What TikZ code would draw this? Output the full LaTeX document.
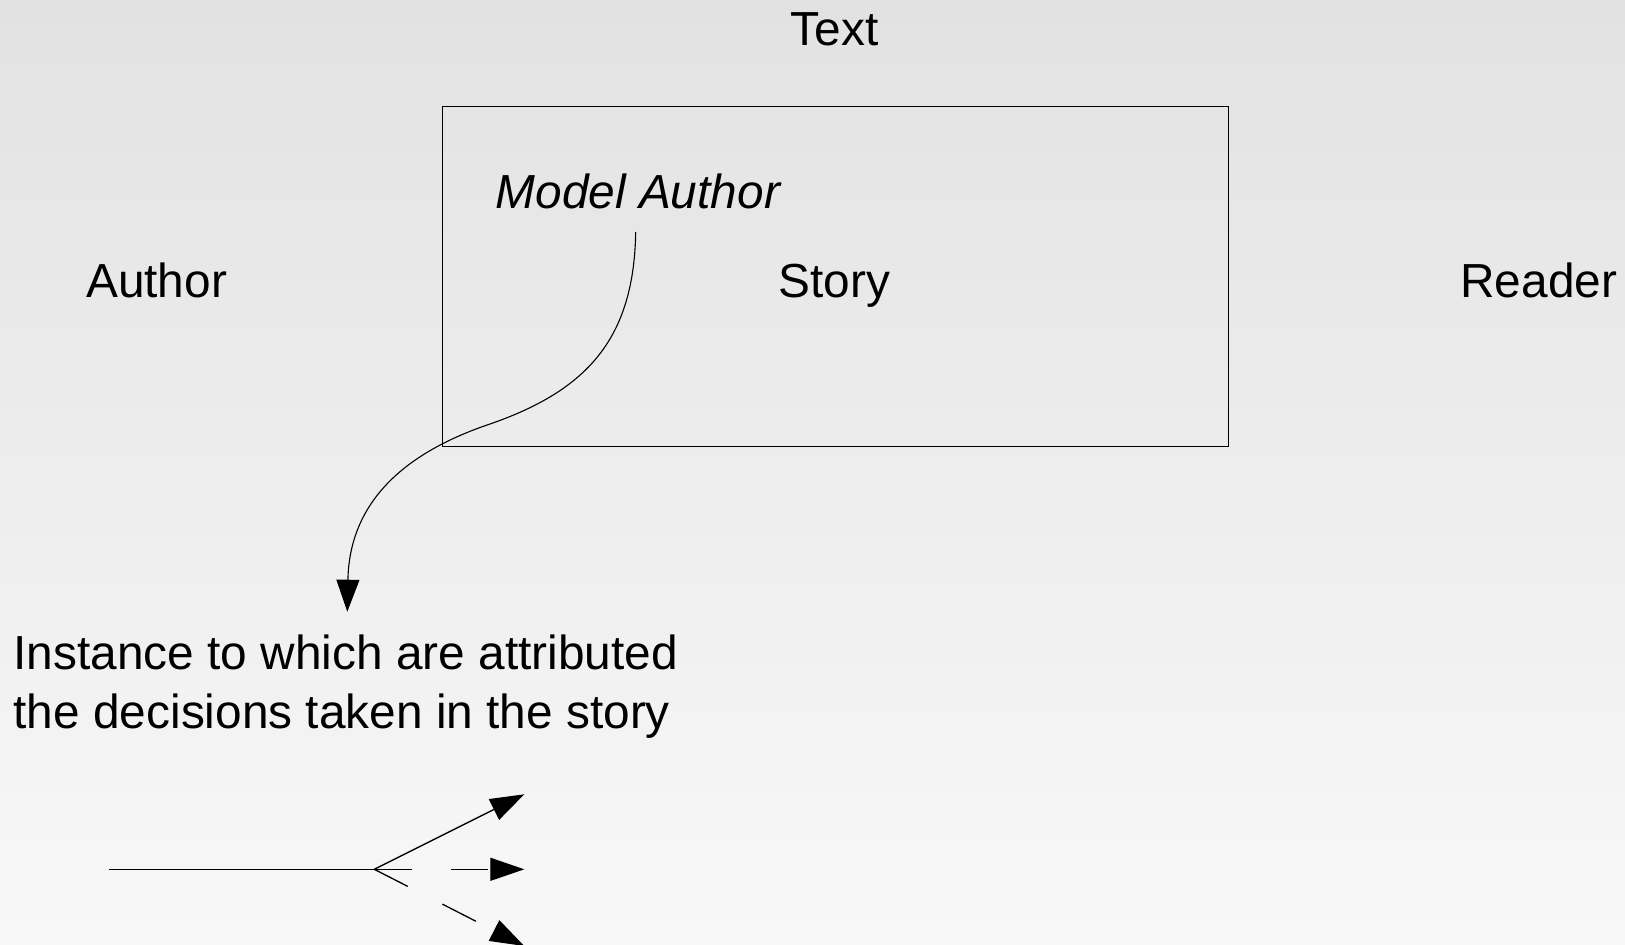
\documentclass[tikz,border=0pt]{standalone}
\usepackage{fontspec}
\setmainfont{Liberation Sans}
\usetikzlibrary{arrows.meta}
\definecolor{bgtop}{HTML}{E2E2E2}
\definecolor{bgbottom}{HTML}{F8F8F8}
\begin{document}
\begin{tikzpicture}[x=1pt,y=-1pt,
  lbl/.style={inner sep=0pt, font=\fontsize{47.8}{59}\selectfont},
  frame/.style={draw=black, line width=1pt, inner sep=0pt},
  conn/.style={draw=black, line width=1.1pt, -{Triangle[length=32pt,width=23pt]}},
  fan/.style={draw=black, line width=1.3pt},
  fanarrow/.style={fan, -{Triangle[length=34pt,width=23pt]}},
  fandash/.style={fanarrow, dash pattern=on 37.5pt off 39pt}]
\useasboundingbox (0,0) rectangle (1625,945);
\shade[top color=bgtop, bottom color=bgbottom] (0,0) rectangle (1625,945);

\node[frame, anchor=north west, minimum width=786.3pt, minimum height=340.3pt] (storybox) at (441.7,105.7) {};

\node[lbl, anchor=base] (text) at (834.5,45.5) {Text};
\node[lbl, anchor=base west] (author) at (86,297.5) {Author};
\node[lbl, anchor=base] (story) at (834.5,297.5) {Story};
\node[lbl, anchor=base west] (reader) at (1460.2,297.5) {Reader};
\node[lbl, anchor=base west, font=\fontsize{47.8}{59}\selectfont\itshape] (model) at (495.5,208.2) {Model Author};
\node[lbl, anchor=base west] (inst1) at (13.5,669.3) {Instance to which are attributed};
\node[lbl, anchor=base west] (inst2) at (13.5,728.3) {the decisions taken in the story};

\coordinate (mafoot) at (635.7,232);
\coordinate (insttop) at (347.3,611.7);
\draw[conn] (mafoot) .. controls (634,338) and (588,390) .. (490,424)
  .. controls (380,461) and (349,522) .. (insttop);

\coordinate (tail) at (109,869.3);
\coordinate (fork) at (374.3,869.3);
\coordinate (up) at (524.3,794.3);
\coordinate (mid) at (524.3,869.3);
\coordinate (down) at (524.3,946);
\draw[fan] (tail) -- (fork);
\draw[fanarrow] (fork) -- (up);
\draw[fandash] (fork) -- (mid);
\draw[fandash] (fork) -- (down);
\end{tikzpicture}
\end{document}
